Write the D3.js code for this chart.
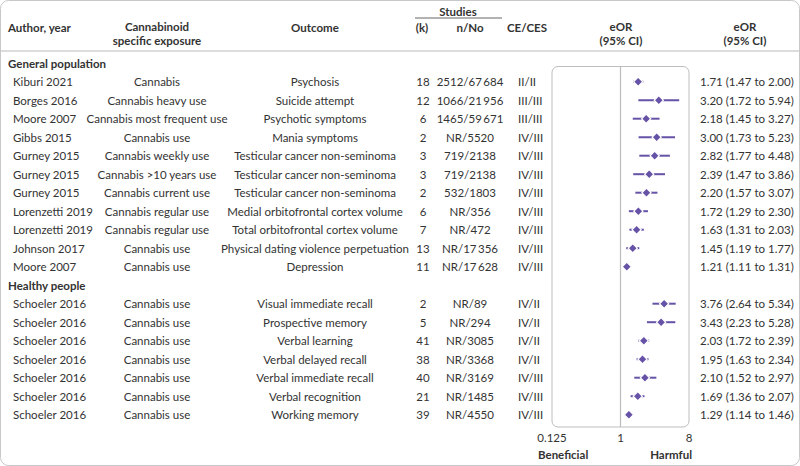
<!DOCTYPE html>
<meta charset="utf-8">
<style>
	body{ margin:0; background:#fff; }
	text{ font-family: Lato, "Noto Sans", sans-serif; font-size: 11.5px; fill: #333; }
	.hd{ font-weight: bold; }
</style>
<body>
<script src="https://cdn.jsdelivr.net/npm/d3@7"></script>
<script>

	var groups = ["General population", "Healthy people"];
	var groupOf = [0,0,0,0,0,0,0,0,0,0,0, 1,1,1,1,1,1,1];

	var authors = ["Kiburi 2021","Borges 2016","Moore 2007","Gibbs 2015","Gurney 2015","Gurney 2015","Gurney 2015",
		"Lorenzetti 2019","Lorenzetti 2019","Johnson 2017","Moore 2007",
		"Schoeler 2016","Schoeler 2016","Schoeler 2016","Schoeler 2016","Schoeler 2016","Schoeler 2016","Schoeler 2016"];

	var exposures = ["Cannabis","Cannabis heavy use","Cannabis most frequent use","Cannabis use","Cannabis weekly use",
		"Cannabis >10 years use","Cannabis current use","Cannabis regular use","Cannabis regular use","Cannabis use","Cannabis use",
		"Cannabis use","Cannabis use","Cannabis use","Cannabis use","Cannabis use","Cannabis use","Cannabis use"];

	var outcomes = ["Psychosis","Suicide attempt","Psychotic symptoms","Mania symptoms","Testicular cancer non-seminoma",
		"Testicular cancer non-seminoma","Testicular cancer non-seminoma","Medial orbitofrontal cortex volume",
		"Total orbitofrontal cortex volume","Physical dating violence perpetuation","Depression",
		"Visual immediate recall","Prospective memory","Verbal learning","Verbal delayed recall",
		"Verbal immediate recall","Verbal recognition","Working memory"];

	var kStudies = [18,12,6,2,3,3,2,6,7,13,11, 2,5,41,38,40,21,39];

	var nNo = ["2512/67\u2009684","1066/21\u2009956","1465/59\u2009671","NR/5520","719/2138","719/2138","532/1803",
		"NR/356","NR/472","NR/17\u2009356","NR/17\u2009628",
		"NR/89","NR/294","NR/3085","NR/3368","NR/3169","NR/1485","NR/4550"];

	var ceCes = ["II/II","III/III","III/III","IV/III","IV/III","IV/III","IV/III","IV/III","IV/III","IV/III","IV/III",
		"IV/II","IV/II","IV/II","IV/II","IV/III","IV/III","IV/III"];

	var eor   = [1.71,3.20,2.18,3.00,2.82,2.39,2.20,1.72,1.63,1.45,1.21, 3.76,3.43,2.03,1.95,2.10,1.69,1.29];
	var lower = [1.47,1.72,1.45,1.73,1.77,1.47,1.57,1.29,1.31,1.19,1.11, 2.64,2.23,1.72,1.63,1.52,1.36,1.14];
	var upper = [2.00,5.94,3.27,5.23,4.48,3.86,3.07,2.30,2.03,1.77,1.31, 5.34,5.28,2.39,2.34,2.97,2.07,1.46];

	var axisTicks = [0.125, 1, 8];

	var W = 800, H = 466;
	var purple = "#6652a6";

	// one slot per line: group headings + study rows
	var slots = [];
	authors.forEach(function(a, i){
		if (i === 0 || groupOf[i] !== groupOf[i-1]) slots.push({type: "group", label: groups[groupOf[i]]});
		slots.push({type: "row", i: i});
	});

	var y = d3.scalePoint()
		.domain(d3.range(slots.length))
		.range([63.2, 414.7]);

	var x = d3.scaleLog()
		.base(2)
		.domain([0.125, 8])
		.range([552, 689]);

	var svg = d3.select("body").append("svg")
		.attr("width", W)
		.attr("height", H);

	// outer frame
	svg.append("rect")
		.attr("x", 0.5).attr("y", 0.5)
		.attr("width", W - 1).attr("height", H - 1)
		.attr("rx", 8)
		.attr("fill", "#fff")
		.attr("stroke", "#c8c8c8");

	// header
	var head = svg.append("g");
	function ht(txt, xx, yy, anchor){
		head.append("text")
			.attr("class", "hd")
			.attr("x", xx).attr("y", yy)
			.attr("text-anchor", anchor || "middle")
			.attr("dominant-baseline", "central")
			.text(txt);
	}
	ht("Author, year", 8, 27, "start");
	ht("Cannabinoid", 157, 26);
	ht("specific exposure", 157, 40);
	ht("Outcome", 315, 27);
	ht("Studies", 458, 11);
	ht("(k)", 422, 27);
	ht("n/No", 470, 27);
	ht("CE/CES", 527, 27);
	ht("eOR", 621, 26);
	ht("(95% CI)", 621, 40);
	ht("eOR", 745, 26);
	ht("(95% CI)", 745, 40);

	svg.append("line")
		.attr("x1", 415).attr("x2", 502)
		.attr("y1", 18).attr("y2", 18)
		.attr("stroke", "#666").attr("stroke-width", 1);

	svg.append("line")
		.attr("x1", 1).attr("x2", W - 1)
		.attr("y1", 51).attr("y2", 51)
		.attr("stroke", "#d0d0d0").attr("stroke-width", 1.5);

	// plot panel
	svg.append("rect")
		.attr("x", x(0.125)).attr("y", 66.5)
		.attr("width", x(8) - x(0.125)).attr("height", 427 - 66.5)
		.attr("rx", 6)
		.attr("fill", "none")
		.attr("stroke", "#bdbdbd");

	svg.append("line")
		.attr("x1", x(1)).attr("x2", x(1))
		.attr("y1", 66.5).attr("y2", 427)
		.attr("stroke", "#bdbdbd").attr("stroke-width", 1.2);

	// group headings
	svg.selectAll(".grp")
		.data(slots.map(function(s, j){ return {s: s, j: j}; }).filter(function(d){ return d.s.type === "group"; }))
		.enter().append("text")
		.attr("class", "hd")
		.attr("x", 8)
		.attr("y", function(d){ return y(d.j); })
		.attr("dominant-baseline", "central")
		.text(function(d){ return d.s.label; });

	var rows = svg.selectAll(".row")
		.data(slots.map(function(s, j){ return {i: s.i, j: j, type: s.type}; }).filter(function(d){ return d.type === "row"; }))
		.enter().append("g")
		.attr("class", "row")
		.attr("transform", function(d){ return "translate(0," + y(d.j) + ")"; });

	function col(fn, xx, anchor){
		rows.append("text")
			.attr("x", xx)
			.attr("text-anchor", anchor)
			.attr("dominant-baseline", "central")
			.text(function(d){ return fn(d.i); });
	}
	col(function(i){ return authors[i]; }, 13, "start");
	col(function(i){ return exposures[i]; }, 157, "middle");
	col(function(i){ return outcomes[i]; }, 315, "middle");
	col(function(i){ return kStudies[i]; }, 423, "middle");
	col(function(i){ return nNo[i]; }, 470, "middle");
	col(function(i){ return ceCes[i]; }, 518, "start");
	col(function(i){ return eor[i].toFixed(2) + " (" + lower[i].toFixed(2) + " to " + upper[i].toFixed(2) + ")"; }, 700, "start");

	rows.append("line")
		.attr("x1", function(d){ return x(lower[d.i]); })
		.attr("x2", function(d){ return x(upper[d.i]); })
		.attr("stroke", purple)
		.attr("stroke-width", 2);

	rows.append("path")
		.attr("d", d3.symbol().type(d3.symbolSquare).size(42))
		.attr("transform", function(d){ return "translate(" + x(eor[d.i]) + ",0) rotate(45)"; })
		.attr("fill", purple)
		.attr("stroke", "#fff")
		.attr("stroke-width", 1.2);

	// axis labels
	svg.selectAll(".tick")
		.data(axisTicks)
		.enter().append("text")
		.attr("x", function(d){ return x(d); })
		.attr("y", 437)
		.attr("text-anchor", "middle")
		.attr("dominant-baseline", "central")
		.text(function(d){ return d; });

	svg.append("text").attr("class", "hd")
		.attr("x", 538).attr("y", 454)
		.attr("dominant-baseline", "central")
		.text("Beneficial");

	svg.append("text").attr("class", "hd")
		.attr("x", 692).attr("y", 454)
		.attr("text-anchor", "end")
		.attr("dominant-baseline", "central")
		.text("Harmful");

</script>
</body>
